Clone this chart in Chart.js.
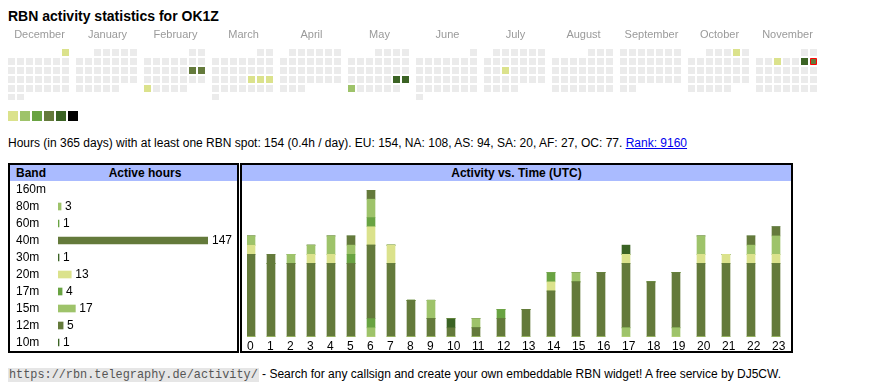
<!DOCTYPE html>
<html><head><meta charset="utf-8">
<script src="https://cdn.jsdelivr.net/npm/chart.js@4"></script>
<style>
html,body{margin:0;padding:0;background:#fff;}
body{width:870px;height:390px;position:relative;overflow:hidden;font-family:"Liberation Sans",Arial,sans-serif;color:#000;}
.abs{position:absolute;}
#title{left:8px;top:8px;font-weight:bold;font-size:14px;line-height:16px;white-space:nowrap;}
#stats{left:8px;top:136px;font-size:12px;line-height:14px;white-space:nowrap;}
#stats a{color:#0000ee;text-decoration:underline;}
.sw{position:absolute;top:111px;width:10px;height:10px;}
.panel{position:absolute;top:163px;height:190px;border:2px solid #000;box-sizing:border-box;}
.hdr{position:absolute;left:0;right:0;top:0;height:16px;background:#aabbff;font-weight:bold;font-size:12px;line-height:16px;white-space:nowrap;}
.panel canvas{position:absolute;left:0;top:16px;}
#footer{left:8px;top:366px;font-size:12px;line-height:16px;white-space:nowrap;}
#footer code{font-family:"Liberation Mono",monospace;font-size:11.85px;background:#e6e6e6;color:#555;padding:0 1px;}
</style>
</head><body>
<div id="title" class="abs">RBN activity statistics for OK1Z</div>
<canvas id="cal" class="abs" width="870" height="75" style="left:0;top:25px;"></canvas>
<div id="legend"></div>
<div id="stats" class="abs">Hours (in 365 days) with at least one RBN spot: 154 (0.4h / day). EU: 154, NA: 108, AS: 94, SA: 20, AF: 27, OC: 77. <a href="#">Rank: 9160</a></div>

<div class="panel" style="left:8px;width:231px;">
  <div class="hdr"><span style="position:absolute;left:6px;">Band</span><span style="position:absolute;left:135px;transform:translateX(-50%);">Active hours</span></div>
  <canvas id="bands" width="227" height="170"></canvas>
</div>
<div class="panel" style="left:240px;width:553px;">
  <div class="hdr" style="text-align:center;">Activity vs. Time (UTC)</div>
  <canvas id="hours" width="549" height="170"></canvas>
</div>

<div id="footer" class="abs"><code>https://rbn.telegraphy.de/activity/</code> - Search for any callsign and create your own embeddable RBN widget! A free service by DJ5CW.</div>

<script>
// ---------------- data ----------------
const months = ['December','January','February','March','April','May','June','July','August','September','October','November'];
const startYear = 2024, startMonth = 11; // December 2024
const activeDays   = ['2024-12-01','2025-02-15','2025-02-16','2025-02-24','2025-03-21','2025-03-22','2025-03-23','2025-05-24','2025-05-25','2025-05-26','2025-07-16','2025-10-04','2025-11-05','2025-11-08','2025-11-09'];
const activeLevels = [1,4,4,1,1,1,1,5,5,2,1,1,1,5,4];
const todayDate = '2025-11-09';
const levelColors = ['#ebebeb','#dbe28c','#9ec36a','#69a342','#647a3b','#3b6324','#000000'];

const bands = ['160m','80m','60m','40m','30m','20m','17m','15m','12m','10m'];
const bandColors = ['#dbe28c','#9ec36a','#69a342','#647a3b','#3b6324','#dbe28c','#69a342','#9ec36a','#647a3b','#3b6324'];
const hours = ['0','1','2','3','4','5','6','7','8','9','10','11','12','13','14','15','16','17','18','19','20','21','22','23'];
const h160m = [0,0,0,0,0,0,0,0,0,0,0,0,0,0,0,0,0,0,0,0,0,0,0,0];
const h80m  = [0,0,0,0,0,0,1,0,0,0,0,0,0,0,0,0,0,1,0,1,0,0,0,0];
const h60m  = [0,0,0,0,0,0,1,0,0,0,0,0,0,0,0,0,0,0,0,0,0,0,0,0];
const h40m  = [9,8,8,8,8,8,8,8,4,2,1,1,2,3,5,6,7,7,6,6,8,8,8,8];
const h30m  = [0,0,0,0,0,0,0,0,0,0,1,0,0,0,0,0,0,0,0,0,0,0,0,0];
const h20m  = [1,0,0,1,1,0,2,2,0,0,0,0,0,0,1,0,0,1,0,0,1,1,1,1];
const h17m  = [0,0,0,0,0,1,1,0,0,0,0,0,1,0,1,0,0,0,0,0,0,0,0,0];
const h15m  = [1,0,1,1,2,1,2,0,0,2,0,1,0,0,0,1,0,0,0,0,2,0,1,2];
const h12m  = [0,1,0,0,0,1,1,0,0,0,0,0,0,0,0,0,0,0,0,0,0,0,1,1];
const h10m  = [0,0,0,0,0,0,0,0,0,0,0,0,0,0,0,0,0,1,0,0,0,0,0,0];
const bandSeries = [h160m,h80m,h60m,h40m,h30m,h20m,h17m,h15m,h12m,h10m];
const bandHours = bandSeries.map(s => s.reduce((a,b)=>a+b,0));

// ---------------- common ----------------
const FONT = '"Liberation Sans", Arial, sans-serif';
Chart.defaults.font.family = FONT;
Chart.defaults.color = '#000';
const base = {responsive:false, animation:false, devicePixelRatio:1, events:[],
  plugins:{legend:{display:false}, tooltip:{enabled:false}}};
const noPad = (s)=>{ s.paddingLeft = 0; s.paddingRight = 0; s.paddingTop = 0; s.paddingBottom = 0; };

// ---------------- calendar ----------------
const PITCH = 9, CELL = 7, MONTH_STRIDE = 68/PITCH;
const calPts=[], calBg=[], calBc=[], calBw=[], calR=[];
for (let m=0;m<12;m++){
  const y = startYear + Math.floor((startMonth+m)/12), mo = (startMonth+m)%12;
  const firstCol = (new Date(Date.UTC(y,mo,1)).getUTCDay()+6)%7;
  const nDays = new Date(Date.UTC(y,mo+1,0)).getUTCDate();
  for (let d=1; d<=nDays; d++){
    const idx = firstCol + d - 1;
    const key = y+'-'+String(mo+1).padStart(2,'0')+'-'+String(d).padStart(2,'0');
    const ai = activeDays.indexOf(key);
    const lvl = ai>=0 ? activeLevels[ai] : 0;
    calPts.push({x: m*MONTH_STRIDE + idx%7, y: Math.floor(idx/7)});
    calBg.push(levelColors[lvl]);
    const today = key===todayDate;
    calBc.push(today ? '#ff0000' : 'rgba(0,0,0,0)');
    calBw.push(today ? 1 : 0);
    calR.push(((today ? CELL-1 : CELL)/2)/Math.SQRT1_2);
  }
}
const monthLabels = {id:'monthLabels', afterDraw(chart){
  const ctx = chart.ctx, xs = chart.scales.x;
  ctx.save();
  ctx.font = '11px ' + FONT; ctx.fillStyle = '#9a9a9a'; ctx.textAlign='center'; ctx.textBaseline='alphabetic';
  months.forEach((name,m)=>{
    const cx = (xs.getPixelForValue(m*MONTH_STRIDE) + xs.getPixelForValue(m*MONTH_STRIDE+6))/2 + 1;
    ctx.fillText(name, cx, 13.3);
  });
  ctx.restore();
}};
new Chart(document.getElementById('cal'), {
  type:'scatter',
  data:{datasets:[{data:calPts, pointStyle:'rect', pointRadius:calR, pointHoverRadius:calR,
    pointBackgroundColor:calBg, pointBorderColor:calBc, pointBorderWidth:calBw, clip:false}]},
  options:Object.assign({}, base, {
    layout:{padding:0, autoPadding:false},
    scales:{
      x:{type:'linear', display:false, min:-11.5/PITCH, max:(870-11.5)/PITCH},
      y:{type:'linear', display:false, reverse:true, min:-27.5/PITCH, max:(75-27.5)/PITCH}
    }}),
  plugins:[monthLabels]
});

// legend swatches
const lg = document.getElementById('legend');
levelColors.slice(1).forEach((c,i)=>{ const d=document.createElement('div'); d.className='sw'; d.style.left=(8+12*i)+'px'; d.style.background=c; lg.appendChild(d); });

// ---------------- band table ----------------
const valueLabels = {id:'valueLabels', afterDatasetsDraw(chart){
  const ctx = chart.ctx, meta = chart.getDatasetMeta(0);
  ctx.save(); ctx.font = '12px ' + FONT; ctx.fillStyle = '#000'; ctx.textAlign='left'; ctx.textBaseline='middle';
  meta.data.forEach((bar,i)=>{ if (bandHours[i]) ctx.fillText(String(bandHours[i]), bar.x + 4, bar.y + 0.5); });
  ctx.restore();
}};
new Chart(document.getElementById('bands'), {
  type:'bar',
  data:{labels:bands, datasets:[{data:bandHours.map(v => v || null), backgroundColor:bandColors, barThickness:7, borderWidth:0}]},
  options:Object.assign({}, base, {
    indexAxis:'y',
    layout:{padding:{left:6, right:29, top:0, bottom:0}, autoPadding:false},
    scales:{
      x:{display:false, min:0, max:Math.max(...bandHours)},
      y:{grid:{display:false, drawTicks:false}, border:{display:false},
         ticks:{crossAlign:'far', padding:0, autoSkip:false, color:'#000', font:{size:12}},
         afterFit:(s)=>{ s.width = 42; noPad(s); }}
    }}),
  plugins:[valueLabels]
});

// ---------------- activity vs time ----------------
const COL_PAD = 15, COL_PER_CHAR = 5, BAR_W = 8;
const colStart = []; let acc = 0;
hours.forEach(h => { colStart.push(acc); acc += COL_PAD + COL_PER_CHAR*h.length; });
const barX = colStart.map(s => s + BAR_W/2);
const totals = hours.map((h,i)=> bandSeries.reduce((a,s)=>a+s[i],0));
new Chart(document.getElementById('hours'), {
  type:'bar',
  data:{datasets: bands.map((b,k)=>({label:b, data:bandSeries[k].map((v,i)=>({x:barX[i], y:v})),
     backgroundColor:bandColors[k], barThickness:BAR_W, borderWidth:0}))},
  options:Object.assign({}, base, {
    layout:{padding:{left:5, right:0, top:9, bottom:0}, autoPadding:false},
    scales:{
      x:{type:'linear', stacked:true, min:0, max:544, offset:false,
         grid:{display:false, drawTicks:false}, border:{display:false},
         afterBuildTicks:(s)=>{ s.ticks = colStart.map(v=>({value:v})); },
         ticks:{autoSkip:false, maxRotation:0, minRotation:0, align:'start', padding:2, color:'#000', font:{size:12},
                callback:(v,i)=>hours[i]},
         afterFit:(s)=>{ s.height = 14; noPad(s); }},
      y:{stacked:true, display:false, min:0, max:Math.max(...totals)}
    }})
});
</script>
</body></html>
